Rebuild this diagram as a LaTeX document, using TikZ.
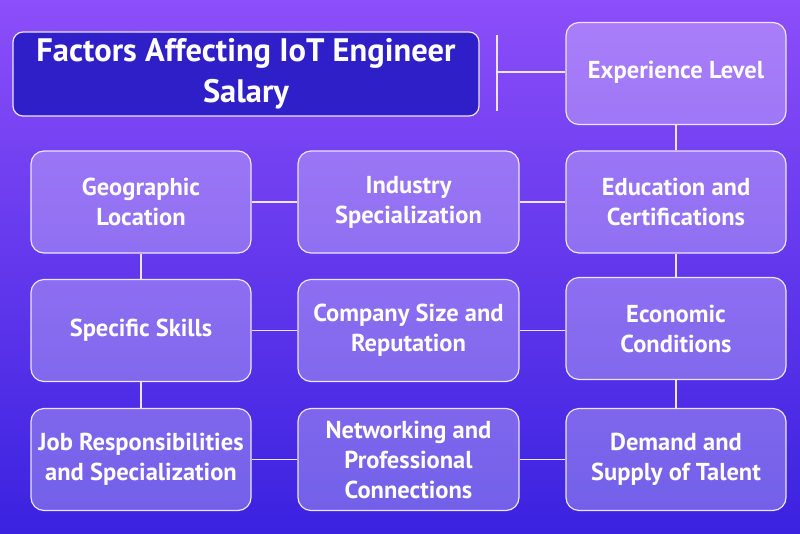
\documentclass[tikz,border=0pt]{standalone}
\usepackage{fontspec}
\setmainfont{PT Sans}
\definecolor{bgtop}{HTML}{8C4EF9}
\definecolor{bgbot}{HTML}{3A22E0}
\definecolor{titlefill}{HTML}{2E1FC9}
\definecolor{linecol}{HTML}{EDE4FF}
\tikzset{
  factor/.style={draw=linecol, line width=1.2pt, rounded corners=13pt,
    fill=white, fill opacity=0.28, text opacity=1, text=white,
    minimum width=220pt, minimum height=102pt, inner sep=2pt,
    align=center, font=\bfseries\fontsize{24.5}{30}\selectfont},
  titlebox/.style={draw=linecol, line width=1.2pt, rounded corners=10pt,
    fill=titlefill, text=white, minimum width=466pt, minimum height=84pt,
    align=center, font=\bfseries\fontsize{32.5}{41}\selectfont},
  conn/.style={draw=linecol, line width=1.6pt}
}
\begin{document}
\begin{tikzpicture}[x=1pt,y=-1pt]
\useasboundingbox (0,0) rectangle (800,533);
\shade[top color=bgtop, bottom color=bgbot] (0,0) rectangle (800,533);

\node[titlebox] (title) at (246,74) {Factors Affecting IoT Engineer\\Salary};

\node[factor] (exp) at (676,73.5) {Experience Level\\[-23pt]\mbox{}};
\node[factor] (geo) at (141,202) {Geographic\\Location};
\node[factor, minimum width=221pt] (ind) at (408.5,202) {Industry\\Specialization};
\node[factor] (edu) at (676,202) {Education and\\Certifications};
\node[factor] (spe) at (141,330.5) {Specific Skills};
\node[factor, minimum width=221pt] (com) at (408.5,330.5) {Company Size and\\Reputation};
\node[factor] (eco) at (676,328.5) {Economic\\Conditions};
\node[factor] (job) at (141,459.5) {Job Responsibilities\\and Specialization};
\node[factor, minimum width=221pt] (net) at (408.5,459.5) {Networking and\\Professional\\Connections};
\node[factor] (dem) at (676,459.5) {Demand and\\Supply of Talent};

\coordinate (ttop) at (497,35);
\coordinate (tbot) at (497,111);
\coordinate (tmid) at (497,72);
\draw[conn] (ttop) -- (tbot);
\draw[conn] (tmid) -- (exp.west |- tmid);

\draw[conn] (exp) -- (edu);
\draw[conn] (edu) -- (eco);
\draw[conn] (eco) -- (dem);
\draw[conn] (geo) -- (spe);
\draw[conn] (spe) -- (job);
\draw[conn] (geo) -- (ind);
\draw[conn] (ind) -- (edu);
\draw[conn] (spe) -- (com);
\draw[conn] (com) -- (eco.west |- com);
\draw[conn] (job) -- (net);
\draw[conn] (net) -- (dem);
\end{tikzpicture}
\end{document}
